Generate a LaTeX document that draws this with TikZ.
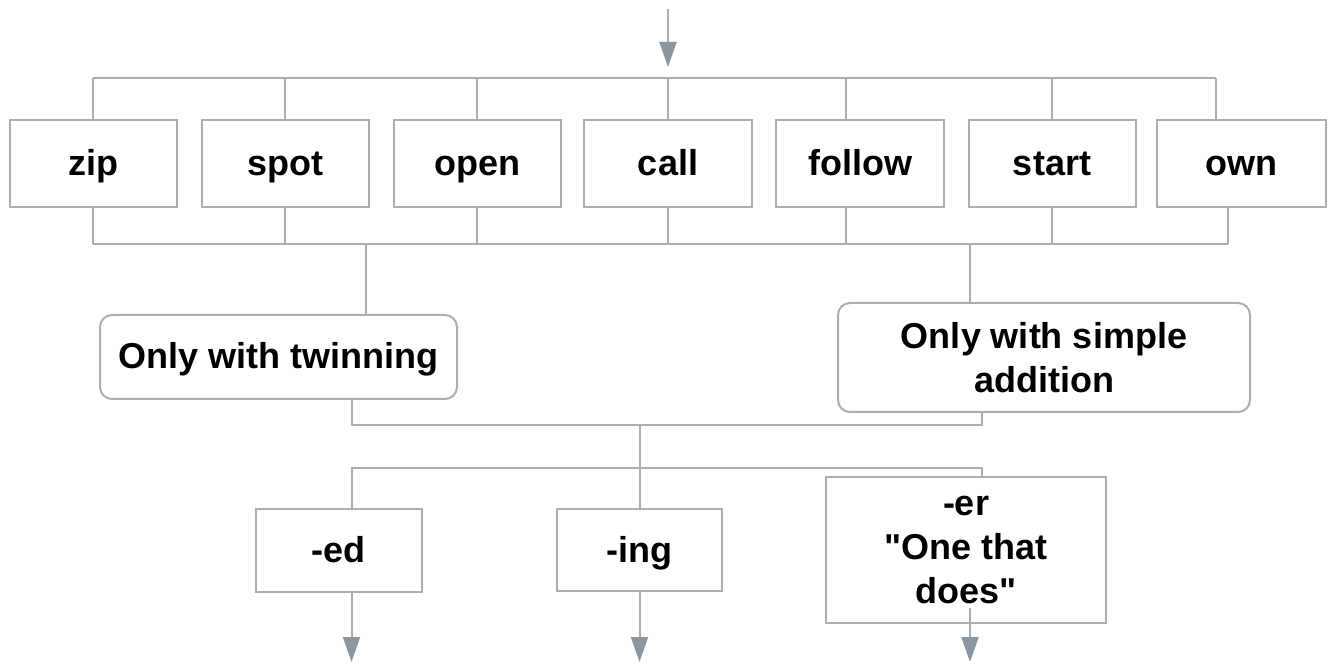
\documentclass[tikz,border=0pt]{standalone}
\usepackage{fontspec}
\setmainfont{Liberation Sans}
\usetikzlibrary{arrows.meta}
\usetikzlibrary{calc}
\definecolor{custom-line}{RGB}{168, 174, 180}
\definecolor{custom-tip}{RGB}{140, 150, 160}
\tikzset{
  wordbox/.style={draw=custom-line, line width=1pt, fill=white,
    font=\fontsize{18}{22}\selectfont\bfseries, inner sep=0pt,
    text height=16pt, text depth=4pt},
  longbox/.style={draw=custom-line, line width=1pt, fill=white, align=center,
    font=\fontsize{18}{22}\selectfont\bfseries, inner sep=0pt},
  rulebox/.style={rounded corners=6pt},
  link/.style={draw=custom-line, line width=1pt},
  flow/.style={link, -{Triangle[width=8.5pt, length=12.5pt, fill=custom-tip, color=custom-tip]}}
}
\begin{document}
\begin{tikzpicture}[x=0.5pt, y=-0.5pt]
\useasboundingbox (0,0) rectangle (1338,667);
% verbs
\node[wordbox, minimum width=83.5pt, minimum height=43.5pt] (zip) at (93,163.5) {zip};
\node[wordbox, minimum width=83.5pt, minimum height=43.5pt] (spot) at (285,163.5) {spot};
\node[wordbox, minimum width=83.5pt, minimum height=43.5pt] (open) at (477,163.5) {open};
\node[wordbox, minimum width=84pt, minimum height=43.5pt] (call) at (668,163.5) {call};
\node[wordbox, minimum width=84pt, minimum height=43.5pt] (follow) at (860,163.5) {follow};
\node[wordbox, minimum width=83.5pt, minimum height=43.5pt] (start) at (1052,163.5) {start};
\node[wordbox, minimum width=84.5pt, minimum height=43.5pt] (own) at (1241.5,163.5) {own};
% rules
\node[wordbox, rulebox, minimum width=178.5pt, minimum height=42pt] (twin) at (278.5,357) {Only with twinning};
\node[longbox, rulebox, minimum width=206pt, minimum height=54.5pt] (simple) at (1044,357.5) {Only with simple\\addition};
% suffixes
\node[wordbox, minimum width=83pt, minimum height=41.5pt] (ed) at (338.5,550.5) {-ed};
\node[wordbox, minimum width=82.5pt, minimum height=41pt] (ing) at (639.5,550) {-ing};
\node[longbox, minimum width=140pt, minimum height=73pt] (er) at (966,550) {-er\\\textquotedbl One that\\does\textquotedbl};
\coordinate (topin) at (668,9);
\coordinate (topbus) at (0,78);
\coordinate (botbus) at (0,244);
\coordinate (joinbus) at (0,425);
\coordinate (splitbus) at (0,468);
\coordinate (outlevel) at (0,662);
% top arrow
\draw[flow] (topin) -- (668,67);
% into the verbs
\draw[link] (zip.north |- topbus) -- ([xshift=-13pt]own.north |- topbus);
\foreach \v in {zip, spot, open, call, start}
  \draw[link] (\v.north |- topbus) -- (\v.north);
\draw[link] ([xshift=-7pt]follow.north |- topbus) -- ([xshift=-7pt]follow.north);
\draw[link] ([xshift=-13pt]own.north |- topbus) -- ([xshift=-13pt]own.north);
% out of the verbs
\foreach \v in {zip, spot, open, call, start}
  \draw[link] (\v.south) -- (\v.south |- botbus);
\draw[link] ([xshift=-7pt]follow.south) -- ([xshift=-7pt]follow.south |- botbus);
\draw[link] ([xshift=-7pt]own.south) -- ([xshift=-7pt]own.south |- botbus);
\draw[link] (zip.south |- botbus) -- ([xshift=-7pt]own.south |- botbus);
\draw[link] ([xshift=43.75pt]twin.north |- botbus) -- ([xshift=43.75pt]twin.north);
\draw[link] ([xshift=-37pt]simple.north |- botbus) -- ([xshift=-37pt]simple.north);
% joining the rules
\draw[link] ([xshift=36.75pt]twin.south) |- ([xshift=-31pt]simple.south |- joinbus) -- ([xshift=-31pt]simple.south);
\draw[link] (ing.north |- joinbus) -- (ing.north);
\draw[link] ([xshift=6.5pt]ed.north) |- ([xshift=8pt]er.north |- splitbus) -- ([xshift=8pt]er.north);
% out of the suffixes
\draw[flow] ([xshift=6.5pt]ed.south) -- ([xshift=6.5pt]ed.south |- outlevel);
\draw[flow] (ing.south) -- (ing.south |- outlevel);
\draw[flow] ([xshift=2pt, yshift=8pt]er.south) -- ([xshift=2pt]er.south |- outlevel);
\end{tikzpicture}
\end{document}
